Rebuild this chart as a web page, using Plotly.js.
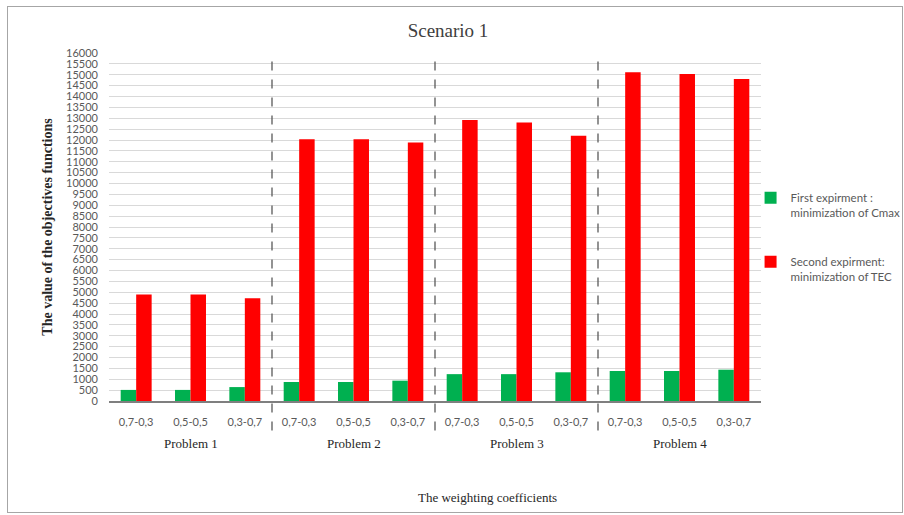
<!DOCTYPE html>
<html>
<head>
<meta charset="utf-8">
<script src="https://cdn.plot.ly/plotly-3.0.1.min.js"></script>
<style>
  html, body { margin: 0; padding: 0; background: #fff; }
  #wrap { position: relative; width: 904px; height: 515px; overflow: hidden; }
  #chart { position: absolute; left: 0; top: 0; width: 904px; height: 515px; }
  #frame { position: absolute; left: 7px; top: 6px; width: 894px; height: 505px;
           border: 1px solid #a6a6a6; pointer-events: none; }
</style>
</head>
<body>
<div id="wrap">
  <div id="chart"></div>
  <div id="frame"></div>
</div>
<script>
// Problem groups and weighting coefficient pairs
const problems = ['Problem 1', 'Problem 2', 'Problem 3', 'Problem 4'];
const weights = ['0,7-0,3', '0,5-0,5', '0,3-0,7'];

// Objective values, ordered problem by problem, weight by weight
const cmaxValues = [510, 510, 640, 875, 875, 935, 1235, 1235, 1320, 1380, 1380, 1440];
const tecValues = [4900, 4900, 4720, 12040, 12040, 11880, 12920, 12810, 12200, 15120, 15030, 14810];

const seriesNames = [
  'First expirment :<br>minimization of Cmax',
  'Second expirment:<br>minimization of TEC'
];
const seriesColors = ['#00b050', '#ff0000'];

// One slot per (problem, weight) pair
const slots = [];
const slotLabels = [];
problems.forEach((p, pi) => {
  weights.forEach((w, wi) => {
    slots.push(pi * weights.length + wi);
    slotLabels.push(w);
  });
});

const sansFont = 'Lato, "Liberation Sans", sans-serif';
const serifFont = '"Liberation Serif", "DejaVu Serif", serif';

const traces = [cmaxValues, tecValues].map((vals, k) => ({
  type: 'bar',
  x: slots,
  y: vals,
  name: seriesNames[k],
  legendgroup: 'g' + k,
  marker: { color: seriesColors[k], line: { width: 0 } },
  hoverinfo: 'y'
}));

// Dashed separators between problem groups
const shapes = problems.slice(1).map((p, i) => ({
  type: 'line',
  xref: 'x', yref: 'paper',
  x0: (i + 1) * weights.length - 0.5,
  x1: (i + 1) * weights.length - 0.5,
  y0: -0.085, y1: 0.985,
  line: { color: '#595959', width: 1.3, dash: 'dash' }
}));

// Problem names under the weight labels
const annotations = problems.map((p, i) => ({
  xref: 'x', yref: 'paper',
  x: i * weights.length + (weights.length - 1) / 2,
  y: -0.121,
  text: p,
  showarrow: false,
  xanchor: 'center', yanchor: 'middle',
  font: { family: serifFont, size: 13, color: '#262626' }
}));

annotations.push({
  xref: 'paper', yref: 'paper',
  x: 0.581, y: -0.276,
  text: 'The weighting coefficients',
  showarrow: false,
  xanchor: 'center', yanchor: 'middle',
  font: { family: serifFont, size: 13, color: '#262626' }
});

const layout = {
  width: 904,
  height: 515,
  margin: { l: 109, r: 143, t: 53, b: 114, autoexpand: false },
  paper_bgcolor: '#ffffff',
  plot_bgcolor: '#ffffff',
  title: {
    text: 'Scenario 1',
    xref: 'container', yref: 'container',
    x: 0.4956, y: 0.942,
    xanchor: 'center', yanchor: 'middle',
    font: { family: serifFont, size: 19, color: '#404040' }
  },
  barmode: 'group',
  bargap: 0.43,
  bargroupgap: 0,
  showlegend: true,
  legend: {
    x: 0.984, y: 0.624,
    xanchor: 'left', yanchor: 'top',
    traceorder: 'grouped',
    tracegroupgap: 31,
    valign: 'top',
    itemwidth: 30,
    font: { family: sansFont, size: 11.5, color: '#595959' },
    bgcolor: 'rgba(0,0,0,0)'
  },
  xaxis: {
    range: [-0.5, slots.length - 0.5],
    tickmode: 'array',
    tickvals: slots,
    ticktext: slotLabels,
    ticks: '',
    ticklabelstandoff: 10,
    showgrid: false,
    zeroline: false,
    showline: true,
    linecolor: '#7f7f7f',
    linewidth: 1.5,
    tickfont: { family: sansFont, size: 11, color: '#595959' },
    fixedrange: true
  },
  yaxis: {
    range: [0, 16000],
    dtick: 500,
    tick0: 0,
    tickformat: 'd',
    ticks: '',
    ticklabelstandoff: 10,
    showgrid: true,
    gridcolor: '#d9d9d9',
    gridwidth: 1,
    zeroline: false,
    showline: false,
    tickfont: { family: sansFont, size: 11, color: '#595959' },
    title: {
      text: 'The value of the objectives functions',
      standoff: 10,
      font: { family: serifFont, size: 14, color: '#262626', weight: 'bold' }
    },
    fixedrange: true
  },
  shapes: shapes,
  annotations: annotations
};

Plotly.newPlot('chart', traces, layout, { displayModeBar: false, staticPlot: true });
</script>
</body>
</html>
